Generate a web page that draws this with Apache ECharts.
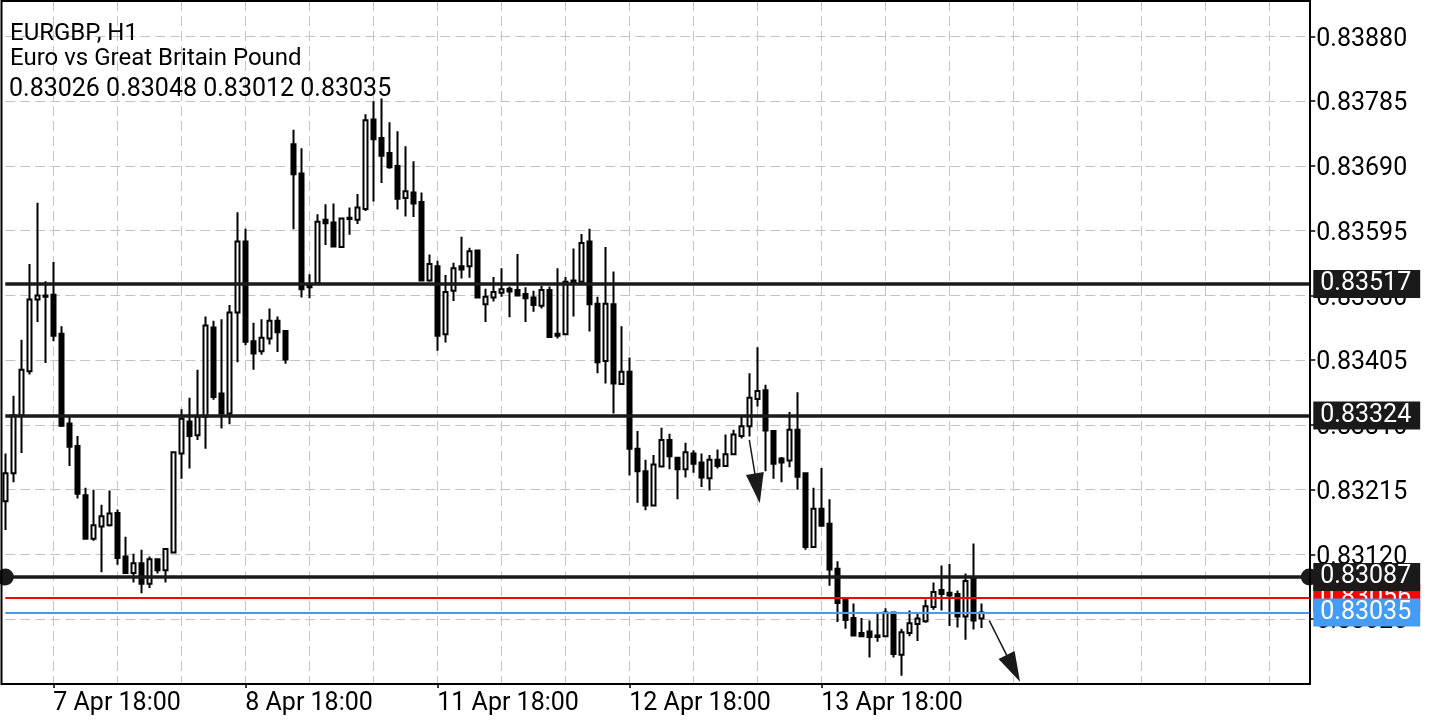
<!DOCTYPE html>
<html>
<head>
<meta charset="utf-8">
<title>EURGBP, H1</title>
<script src="https://cdn.jsdelivr.net/npm/echarts@6/dist/echarts.min.js"></script>
<style>
  html, body { margin: 0; padding: 0; background: #fff; }
  #main { width: 1440px; height: 720px; }
</style>
</head>
<body>
<div id="main"></div>
<script>
// hourly slots: day label + first hour (weekends skipped)
var days = [['7 Apr', 12], ['8 Apr', 0], ['11 Apr', 0], ['12 Apr', 0], ['13 Apr', 0], ['14 Apr', 0], ['15 Apr', 0], ['18 Apr', 0]];
var slotCount = 164;
var tickLabels = ['7 Apr 18:00', '8 Apr 18:00', '11 Apr 18:00', '12 Apr 18:00', '13 Apr 18:00'];

var openData = [
  0.83198,0.83239,0.83324,0.83389,0.83494,0.83500,0.83501,0.83444,0.83312,0.83279,
  0.83207,0.83143,0.83161,0.83163,0.83181,0.83117,0.83093,0.83107,0.83077,0.83113,
  0.83097,0.83123,0.83268,0.83315,0.83295,0.83322,0.83453,0.83356,0.83327,0.83475,
  0.83579,0.83433,0.83418,0.83437,0.83463,0.83448,0.83722,0.83679,0.83514,0.83518,
  0.83611,0.83607,0.83571,0.83614,0.83611,0.83627,0.83758,0.83731,0.83709,0.83690,
  0.83643,0.83651,0.83637,0.83522,0.83543,0.83443,0.83507,0.83543,0.83543,0.83566,
  0.83487,0.83497,0.83504,0.83510,0.83508,0.83502,0.83497,0.83485,0.83508,0.83444,
  0.83443,0.83519,0.83520,0.83579,0.83488,0.83404,0.83487,0.83370,0.83388,0.83275,
  0.83242,0.83192,0.83249,0.83288,0.83262,0.83245,0.83268,0.83255,0.83232,0.83259,
  0.83250,0.83267,0.83294,0.83308,0.83348,0.83361,0.83301,0.83261,0.83258,0.83303,
  0.83239,0.83131,0.83187,0.83165,0.83099,0.83054,0.83027,0.83005,0.83007,0.83001,
  0.83000,0.83035,0.82973,0.83005,0.83018,0.83022,0.83043,0.83068,0.83064,0.83062,
  0.83029,0.83084,0.83026
];
var closeData = [
  0.83239,0.83324,0.83391,0.83494,0.83500,0.83498,0.83441,0.83309,0.83278,0.83209,
  0.83143,0.83163,0.83176,0.83180,0.83115,0.83093,0.83107,0.83077,0.83113,0.83097,
  0.83128,0.83270,0.83319,0.83294,0.83322,0.83456,0.83351,0.83327,0.83475,0.83579,
  0.83432,0.83415,0.83438,0.83463,0.83446,0.83406,0.83678,0.83509,0.83512,0.83608,
  0.83606,0.83572,0.83613,0.83612,0.83629,0.83757,0.83729,0.83705,0.83688,0.83642,
  0.83653,0.83635,0.83522,0.83546,0.83441,0.83505,0.83540,0.83538,0.83565,0.83497,
  0.83498,0.83505,0.83509,0.83506,0.83500,0.83496,0.83486,0.83508,0.83439,0.83441,
  0.83520,0.83522,0.83577,0.83487,0.83402,0.83488,0.83371,0.83388,0.83275,0.83242,
  0.83192,0.83252,0.83288,0.83264,0.83245,0.83270,0.83253,0.83233,0.83259,0.83250,
  0.83267,0.83296,0.83308,0.83350,0.83360,0.83302,0.83253,0.83255,0.83303,0.83234,
  0.83131,0.83187,0.83162,0.83098,0.83049,0.83024,0.83001,0.83000,0.82999,0.82999,
  0.83035,0.82974,0.83006,0.83019,0.83026,0.83044,0.83065,0.83062,0.83060,0.83029,
  0.83081,0.83023,0.83035
];
var lowData = [
  0.83156,0.83226,0.83269,0.83384,0.83461,0.83401,0.83433,0.83307,0.83250,0.83202,
  0.83142,0.83140,0.83094,0.83161,0.83105,0.83093,0.83079,0.83063,0.83071,0.83092,
  0.83079,0.83123,0.83231,0.83246,0.83288,0.83275,0.83347,0.83305,0.83311,0.83402,
  0.83427,0.83391,0.83413,0.83428,0.83417,0.83400,0.83597,0.83497,0.83496,0.83517,
  0.83574,0.83571,0.83570,0.83589,0.83605,0.83624,0.83638,0.83665,0.83686,0.83626,
  0.83616,0.83615,0.83521,0.83520,0.83419,0.83431,0.83492,0.83525,0.83526,0.83496,
  0.83461,0.83491,0.83498,0.83468,0.83499,0.83461,0.83476,0.83481,0.83439,0.83437,
  0.83442,0.83469,0.83520,0.83447,0.83386,0.83371,0.83327,0.83369,0.83236,0.83196,
  0.83185,0.83192,0.83249,0.83245,0.83201,0.83233,0.83240,0.83219,0.83214,0.83246,
  0.83249,0.83266,0.83290,0.83293,0.83337,0.83242,0.83231,0.83226,0.83248,0.83215,
  0.83127,0.83131,0.83161,0.83074,0.83021,0.83011,0.83001,0.82999,0.82969,0.82992,
  0.83000,0.82969,0.82942,0.83000,0.82993,0.83020,0.83039,0.83038,0.83015,0.83013,
  0.82995,0.83010,0.83012
];
var highData = [
  0.83268,0.83353,0.83435,0.83546,0.83636,0.83521,0.83549,0.83455,0.83322,0.83294,
  0.83218,0.83215,0.83193,0.83214,0.83186,0.83146,0.83121,0.83127,0.83117,0.83114,
  0.83129,0.83270,0.83333,0.83350,0.83391,0.83469,0.83463,0.83465,0.83486,0.83622,
  0.83598,0.83460,0.83465,0.83481,0.83469,0.83449,0.83743,0.83716,0.83531,0.83619,
  0.83634,0.83635,0.83614,0.83629,0.83649,0.83766,0.83785,0.83789,0.83754,0.83741,
  0.83719,0.83697,0.83651,0.83560,0.83551,0.83530,0.83548,0.83586,0.83570,0.83567,
  0.83510,0.83527,0.83540,0.83513,0.83561,0.83512,0.83507,0.83514,0.83513,0.83540,
  0.83527,0.83569,0.83590,0.83598,0.83498,0.83571,0.83535,0.83455,0.83409,0.83301,
  0.83259,0.83266,0.83306,0.83297,0.83263,0.83284,0.83273,0.83268,0.83266,0.83274,
  0.83296,0.83303,0.83322,0.83386,0.83424,0.83369,0.83302,0.83263,0.83329,0.83358,
  0.83240,0.83218,0.83247,0.83201,0.83110,0.83055,0.83048,0.83027,0.83023,0.83035,
  0.83041,0.83035,0.83011,0.83038,0.83033,0.83054,0.83079,0.83104,0.83106,0.83067,
  0.83092,0.83136,0.83048
];

// horizontal levels drawn on the chart (last one has end dots)
var levelLines = [0.83517, 0.83324, 0.83087];
var askPrice = 0.83056;
var bidPrice = 0.83035;
// trend arrows: [slot, price] -> [slot, price]
var arrowLines = [
  [[93, 0.83288], [94, 0.83217]],
  [[123, 0.83023], [126, 0.82953]]
];

var yMin = 0.82930, yMax = 0.83932, yStep = 0.00095;

var categories = [];
days.forEach(function (d) {
  for (var h = d[1]; h < 24 && categories.length < slotCount; h++) {
    categories.push(d[0] + ' ' + (h < 10 ? '0' : '') + h + ':00');
  }
});

var candleData = openData.map(function (o, i) {
  return [o, closeData[i], lowData[i], highData[i]];
});

var dotLevel = levelLines[levelLines.length - 1];
var dotData = [[0, dotLevel], [slotCount - 1, dotLevel]];

var last = openData.length - 1;
var ohlcText = [openData[last], highData[last], lowData[last], closeData[last]]
  .map(function (v) { return v.toFixed(5); }).join(' ');

var font = 'Roboto';
var myChart = echarts.init(document.getElementById('main'));

function priceLabel(bg) {
  return {
    show: true,
    position: 'end',
    distance: 4,
    formatter: function (p) { return Number(p.value).toFixed(5); },
    color: '#fff',
    backgroundColor: bg,
    padding: [2, 9, 1, 7],
    fontSize: 25,
    fontFamily: font
  };
}

var markData = [
  { yAxis: askPrice, lineStyle: { color: '#ff0000', width: 2, type: 'solid' }, label: priceLabel('#ff0000') },
  { yAxis: bidPrice, lineStyle: { color: '#449cf6', width: 2, type: 'solid' }, label: priceLabel('#449cf6') }
];
levelLines.forEach(function (v) {
  markData.push({ yAxis: v, lineStyle: { color: '#1a1a1a', width: 3.5, type: 'solid' }, label: priceLabel('#1a1a1a') });
});
arrowLines.forEach(function (a) {
  markData.push([
    { coord: a[0], symbol: 'none', lineStyle: { color: '#1a1a1a', width: 1.5, type: 'solid' }, label: { show: false } },
    { coord: a[1], symbol: 'triangle', symbolSize: [18, 30], itemStyle: { color: '#1a1a1a' } }
  ]);
});

var titleStyle = { fontSize: 24, fontWeight: 'normal', color: '#000', fontFamily: font };

var option = {
  animation: false,
  backgroundColor: '#fff',
  title: [
    { text: 'EURGBP, H1', left: 10, top: 22, padding: 0, textStyle: titleStyle },
    { text: 'Euro vs Great Britain Pound', left: 10, top: 47, padding: 0, textStyle: titleStyle },
    { text: ohlcText, left: 9, top: 77, padding: 0,
      textStyle: { fontSize: 25, fontWeight: 'normal', color: '#000', fontFamily: font } }
  ],
  grid: { left: 5.3, right: 130.7, top: 1, bottom: 36 },
  xAxis: {
    type: 'category',
    data: categories,
    boundaryGap: false,
    axisLine: { show: false },
    axisTick: {
      show: true,
      length: 4,
      lineStyle: { color: '#000', width: 1.5 },
      interval: function (idx, val) { return tickLabels.indexOf(val) >= 0; }
    },
    axisLabel: {
      interval: function (idx, val) { return tickLabels.indexOf(val) >= 0; },
      align: 'left',
      margin: 7,
      color: '#000',
      fontSize: 25,
      fontFamily: font
    },
    splitLine: {
      show: true,
      interval: function (idx) { return idx % 8 === 6; },
      lineStyle: { color: '#c4c4c4', width: 1, type: [10, 5] }
    }
  },
  yAxis: {
    type: 'value',
    position: 'right',
    min: yMin,
    max: yMax,
    interval: yStep,
    scale: true,
    axisLine: { show: false },
    axisTick: { show: true, length: 6, lineStyle: { color: '#000', width: 1.5 } },
    axisLabel: {
      margin: 7,
      showMinLabel: false,
      showMaxLabel: false,
      color: '#000',
      fontSize: 25,
      fontFamily: font,
      formatter: function (v) { return '{p|' + v.toFixed(5) + '}'; },
      rich: {
        p: { fontSize: 25, fontFamily: font, color: '#000', padding: [6, 0, 0, 0] }
      }
    },
    splitLine: { show: true, lineStyle: { color: '#c4c4c4', width: 1, type: [10, 5] } }
  },
  series: [{
    type: 'scatter',
    data: dotData,
    symbol: 'circle',
    symbolSize: 17,
    clip: false,
    silent: true,
    itemStyle: { color: '#1a1a1a', opacity: 1 }
  }, {
    type: 'candlestick',
    data: candleData,
    barWidth: 4,
    clip: false,
    silent: true,
    itemStyle: {
      color: '#fff',
      color0: '#000',
      borderColor: '#000',
      borderColor0: '#000',
      borderWidth: 2
    },
    markLine: {
      silent: true,
      symbol: 'none',
      precision: 5,
      animation: false,
      data: markData
    }
  }],
  graphic: [{
    type: 'rect',
    silent: true,
    z: 5,
    shape: { x: 1.5, y: 1, width: 1308.5, height: 683 },
    style: { fill: 'none', stroke: '#000', lineWidth: 2 }
  }]
};

myChart.setOption(option);
</script>
</body>
</html>
